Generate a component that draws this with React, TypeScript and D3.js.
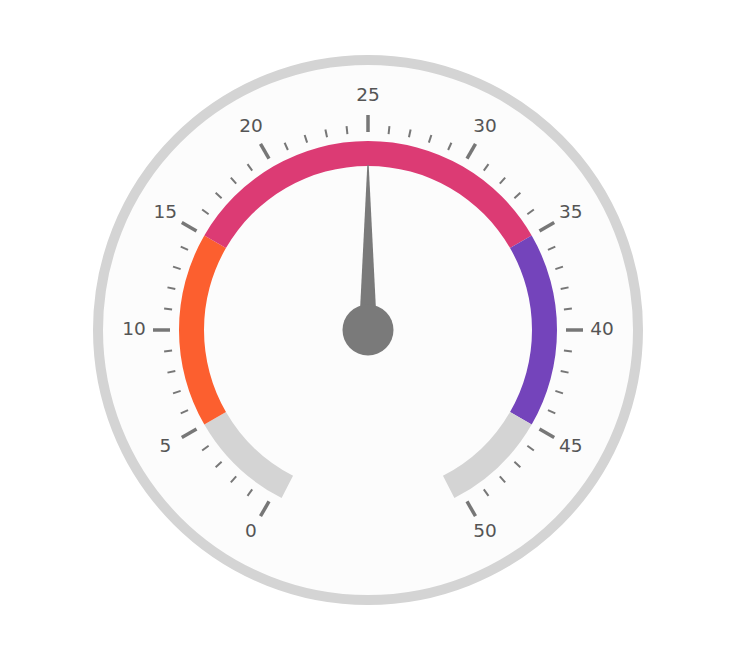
import React, {FC, useEffect, useRef} from 'react';
import * as d3 from 'd3';

// gauge scale
const minValue = 0;
const maxValue = 50;
const needleValue = 25;
const majorTicks = [0, 5, 10, 15, 20, 25, 30, 35, 40, 45, 50];
const minorTicks = d3.range(0, 51).filter(v => v % 5 !== 0);

// colored bands
const bandStarts = [0, 5, 15, 35, 45];
const bandEnds = [5, 15, 35, 45, 50];
const bandColors = ['#d4d4d4', '#fc5f2f', '#dc3b74', '#7444bb', '#d4d4d4'];

const Gauge: FC<{width: number; height: number}> = ({width, height}) => {
  const ref = useRef<SVGSVGElement>(null);

  useEffect(() => {
    const cx = 368,
      cy = 330;
    const root = d3.select(ref.current);
    root.selectAll('*').remove();
    const svg = root.append('g').attr('transform', `translate(${cx}, ${cy})`);

    // angle scale, degrees from top, clockwise
    const angle = d3
      .scaleLinear()
      .domain([minValue, maxValue])
      .range([-150, 150]);
    const rad = (v: number) => (angle(v) * Math.PI) / 180;
    // the band runs a little past the end ticks
    const overshoot = (2.8 * Math.PI) / 180;

    // face
    svg
      .append('circle')
      .attr('r', 270)
      .attr('fill', '#fcfcfc')
      .attr('stroke', '#d4d4d4')
      .attr('stroke-width', 10);

    // bands
    const last = bandStarts.length - 1;
    const arc = d3.arc<number>()
      .innerRadius(164)
      .outerRadius(189)
      .startAngle(i => rad(bandStarts[i]) - (i === 0 ? overshoot : 0))
      .endAngle(i => rad(bandEnds[i]) + (i === last ? overshoot : 0));
    svg
      .append('g')
      .selectAll('path')
      .data(bandStarts.map((_, i) => i))
      .enter()
      .append('path')
      .attr('d', arc)
      .attr('fill', i => bandColors[i]);

    // ticks
    const tick = (v: number, r0: number, r1: number) => {
      const a = rad(v);
      return {
        x1: r0 * Math.sin(a),
        y1: -r0 * Math.cos(a),
        x2: r1 * Math.sin(a),
        y2: -r1 * Math.cos(a),
      };
    };
    svg
      .append('g')
      .selectAll('line')
      .data(minorTicks)
      .enter()
      .append('line')
      .each(function (d) {
        const t = tick(d, 197, 205);
        d3.select(this)
          .attr('x1', t.x1)
          .attr('y1', t.y1)
          .attr('x2', t.x2)
          .attr('y2', t.y2);
      })
      .attr('stroke', '#777')
      .attr('stroke-width', 2);
    svg
      .append('g')
      .selectAll('line')
      .data(majorTicks)
      .enter()
      .append('line')
      .each(function (d) {
        const t = tick(d, 198, 215);
        d3.select(this)
          .attr('x1', t.x1)
          .attr('y1', t.y1)
          .attr('x2', t.x2)
          .attr('y2', t.y2);
      })
      .attr('stroke', '#777')
      .attr('stroke-width', 3.5);

    // labels
    svg
      .append('g')
      .selectAll('text')
      .data(majorTicks)
      .enter()
      .append('text')
      .attr('x', d => 234 * Math.sin(rad(d)))
      .attr('y', d => -234 * Math.cos(rad(d)) - 2)
      .attr('text-anchor', 'middle')
      .attr('dominant-baseline', 'central')
      .attr('font-family', 'DejaVu Sans, Verdana, sans-serif')
      .attr('font-size', 18.5)
      .attr('fill', '#555')
      .text(d => String(d));

    // needle
    const a = angle(needleValue);
    svg
      .append('path')
      .attr('d', 'M -9 0 L -0.7 -165 L 0.7 -165 L 9 0 Z')
      .attr('transform', `rotate(${a})`)
      .attr('fill', '#7a7a7a');
    svg.append('circle').attr('r', 25.5).attr('fill', '#7a7a7a');
  }, [width, height]);

  return (
    <svg
      ref={ref}
      width={width}
      height={height}
      style={{position: 'absolute', left: 0, top: 0, background: '#fff'}}
    />
  );
};

const App: FC = () => <Gauge width={736} height={660} />;

export default App;
